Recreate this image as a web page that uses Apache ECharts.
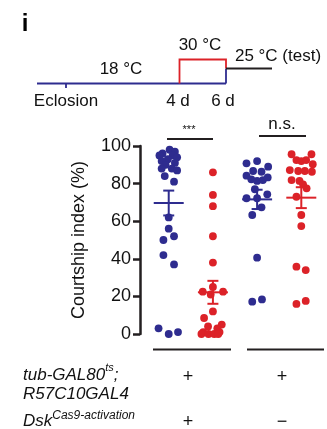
<!DOCTYPE html>
<html>
<head>
<meta charset="utf-8">
<script src="https://cdn.jsdelivr.net/npm/echarts@6/dist/echarts.min.js"></script>
<style>
html,body{margin:0;padding:0;background:#fff;}
#c{width:327px;height:429px;}
</style>
</head>
<body>
<div id="c"></div>
<script>
// ---- data (courtship index, %) ----
const groups = ['Dsk+ 18 °C', 'Dsk+ 30 °C', 'Dsk− 18 °C', 'Dsk− 30 °C'];
const groupColorKeys = ['blue', 'red', 'blue', 'red'];

const g1Values = [98, 97, 96, 95, 95, 94, 93, 92, 91, 90, 88, 88, 87, 84, 81, 62, 56, 52, 50, 42, 37, 3, 0, 1];
const g1Jitter = [0.02, 0.14, -0.14, 0.09, -0.21, 0.19, -0.02, -0.16, 0.14, -0.07, -0.16, 0.07, 0.19, -0.09, 0.12, 0, 0, 0.12, -0.12, -0.12, 0.12, -0.23, 0, 0.21];

const g2Values = [86, 74, 68, 52, 38, 25, 22.5, 22.5, 21, 12, 8.5, 5, 4, 3, 1, 1, 0, 0, 0, 0];
const g2Jitter = [0, 0, 0, 0, 0, 0, -0.23, 0.23, -0.05, 0, -0.2, 0.2, -0.11, 0.1, -0.22, 0.15, -0.26, -0.1, 0.03, 0.12];

const g3Values = [90.8, 92, 89, 86.7, 86.3, 84.2, 82.3, 81.4, 81.9, 83.3, 77, 72.2, 72.2, 74.3, 67.4, 63.3, 40.6, 17.2, 18.4];
const g3Jitter = [-0.24, 0, 0.25, -0.09, 0.1, -0.24, -0.13, 0, 0.13, 0.24, -0.05, -0.24, 0, 0.23, 0.1, -0.11, 0, -0.11, 0.11];

const g4Values = [95.6, 95.6, 92.5, 92, 92.5, 90.3, 87.2, 86.7, 86.7, 86.3, 81.9, 81.4, 79.6, 77.5, 73, 63.3, 57.4, 35.8, 34, 16, 17.6];
const g4Jitter = [-0.22, 0.23, -0.11, 0, 0.11, 0.26, -0.26, -0.07, 0.08, 0.24, -0.22, -0.04, 0.04, 0.12, -0.11, 0, 0, -0.11, 0.1, -0.11, 0.1];

const yTicks = [0, 20, 40, 60, 80, 100];

// ---- styles ----
const COLORS = {blue: '#2e2c8f', red: '#dc2228'};
const FONT = 'Liberation Sans, Arial, Helvetica, sans-serif';

const allValues = [g1Values, g2Values, g3Values, g4Values];
const allJitter = [g1Jitter, g2Jitter, g3Jitter, g4Jitter];

function meanSem(arr) {
  const n = arr.length;
  const m = arr.reduce((a, b) => a + b, 0) / n;
  const v = arr.reduce((a, b) => a + (b - m) * (b - m), 0) / (n - 1);
  return [m, Math.sqrt(v) / Math.sqrt(n)];
}

const series = [];
allValues.forEach((vals, gi) => {
  series.push({
    type: 'scatter',
    name: groups[gi],
    symbolSize: 7.8,
    itemStyle: {color: COLORS[groupColorKeys[gi]], opacity: 1},
    z: 2,
    data: vals.map((v, i) => [gi + 1 + allJitter[gi][i], v])
  });
});

const summary = allValues.map((vals, gi) => {
  const ms = meanSem(vals);
  return [gi + 1, ms[0], ms[1], gi];
});

series.push({
  type: 'custom',
  z: 5,
  data: summary,
  renderItem: function (params, api) {
    const x = api.value(0), m = api.value(1), s = api.value(2), gi = api.value(3);
    const c = COLORS[groupColorKeys[gi]];
    const pm = api.coord([x, m]);
    const pt = api.coord([x, m + s]);
    const pb = api.coord([x, m - s]);
    const st = {stroke: c, lineWidth: 2};
    return {
      type: 'group',
      children: [
        {type: 'line', shape: {x1: pm[0] - 15, y1: pm[1], x2: pm[0] + 15, y2: pm[1]}, style: st},
        {type: 'line', shape: {x1: pt[0], y1: pt[1], x2: pb[0], y2: pb[1]}, style: st},
        {type: 'line', shape: {x1: pt[0] - 5.5, y1: pt[1], x2: pt[0] + 5.5, y2: pt[1]}, style: st},
        {type: 'line', shape: {x1: pb[0] - 5.5, y1: pb[1], x2: pb[0] + 5.5, y2: pb[1]}, style: st}
      ]
    };
  }
});

const txt = (x, y, text, size, opts) => Object.assign({
  type: 'text', x: x, y: y,
  style: Object.assign({text: text, fill: '#111', font: size + 'px ' + FONT, textAlign: 'center', textVerticalAlign: 'middle'}, (opts && opts.style) || {})
}, (opts && opts.el) || {});

const ln = (pts, color, w) => ({type: 'polyline', shape: {points: pts}, style: {stroke: color, lineWidth: w || 1.8, fill: null}});

const graphic = [
  // panel letter
  {type: 'text', x: 25, y: 24, style: {text: 'i', fill: '#000', font: 'bold 24px ' + FONT, textAlign: 'center', textVerticalAlign: 'middle'}},
  // timeline
  ln([[37, 83.5], [226, 83.5]], COLORS.blue),
  ln([[66, 83.5], [66, 88]], COLORS.blue),
  ln([[226, 68.5], [226, 83.5]], COLORS.blue),
  ln([[179.5, 83.5], [179.5, 59.5], [226, 59.5], [226, 68.5]], COLORS.red),
  ln([[226, 68.5], [272, 68.5]], '#231f20'),
  txt(121, 69, '18 °C', 17),
  txt(200, 45.5, '30 °C', 17),
  txt(278, 56, '25 °C (test)', 17),
  txt(66, 101, 'Eclosion', 17),
  txt(178, 101, '4 d', 17),
  txt(223, 101, '6 d', 17),
  // significance bars
  ln([[167, 139], [213, 139]], '#231f20', 1.8),
  txt(189, 130, '***', 11),
  ln([[259, 136], [306, 136]], '#231f20', 1.8),
  txt(282, 124, 'n.s.', 17),
  // bottom group lines
  ln([[153, 349.5], [231, 349.5]], '#231f20', 1.8),
  ln([[247, 349.5], [324, 349.5]], '#231f20', 1.8),
  // genotype labels
  {type: 'text', x: 23, y: 373, style: {
    text: '{i|tub-GAL80}{s|ts}{i|;}', fill: '#111', textAlign: 'left', textVerticalAlign: 'middle',
    rich: {
      i: {font: 'italic 17px ' + FONT, verticalAlign: 'bottom', lineHeight: 21, fill: '#111'},
      s: {font: 'italic 11px ' + FONT, verticalAlign: 'top', lineHeight: 21, fill: '#111'}
    }
  }},
  {type: 'text', x: 23, y: 394, style: {text: 'R57C10GAL4', fill: '#111', font: 'italic 17px ' + FONT, textAlign: 'left', textVerticalAlign: 'middle'}},
  {type: 'text', x: 23, y: 420, style: {
    text: '{i|Dsk}{s|Cas9-activation}', fill: '#111', textAlign: 'left', textVerticalAlign: 'middle',
    rich: {
      i: {font: 'italic 17px ' + FONT, verticalAlign: 'bottom', lineHeight: 20, fill: '#111'},
      s: {font: 'italic 12px ' + FONT, verticalAlign: 'top', lineHeight: 20, fill: '#111'}
    }
  }},
  txt(188, 377, '+', 18),
  txt(282, 377, '+', 18),
  txt(188, 422, '+', 18),
  txt(282, 422, '−', 18)
];

const chart = echarts.init(document.getElementById('c'), null, {renderer: 'canvas'});
chart.setOption({
  animation: false,
  backgroundColor: '#fff',
  textStyle: {fontFamily: FONT},
  grid: {left: 140, top: 146, width: 185.6, height: 188},
  xAxis: {type: 'value', min: 0.35, max: 4.55, show: false},
  yAxis: {
    type: 'value', min: yTicks[0], max: yTicks[yTicks.length - 1], interval: 20,
    name: 'Courtship index (%)', nameLocation: 'middle', nameGap: 52,
    nameTextStyle: {fontSize: 18, color: '#111', fontFamily: FONT},
    axisLine: {show: true, lineStyle: {color: '#231f20', width: 2.5}},
    axisTick: {show: true, inside: false, length: 7, lineStyle: {color: '#231f20', width: 2.5}},
    axisLabel: {fontSize: 18, color: '#111', margin: 9, fontFamily: FONT},
    splitLine: {show: false}
  },
  series: series,
  graphic: graphic
});
</script>
</body>
</html>
